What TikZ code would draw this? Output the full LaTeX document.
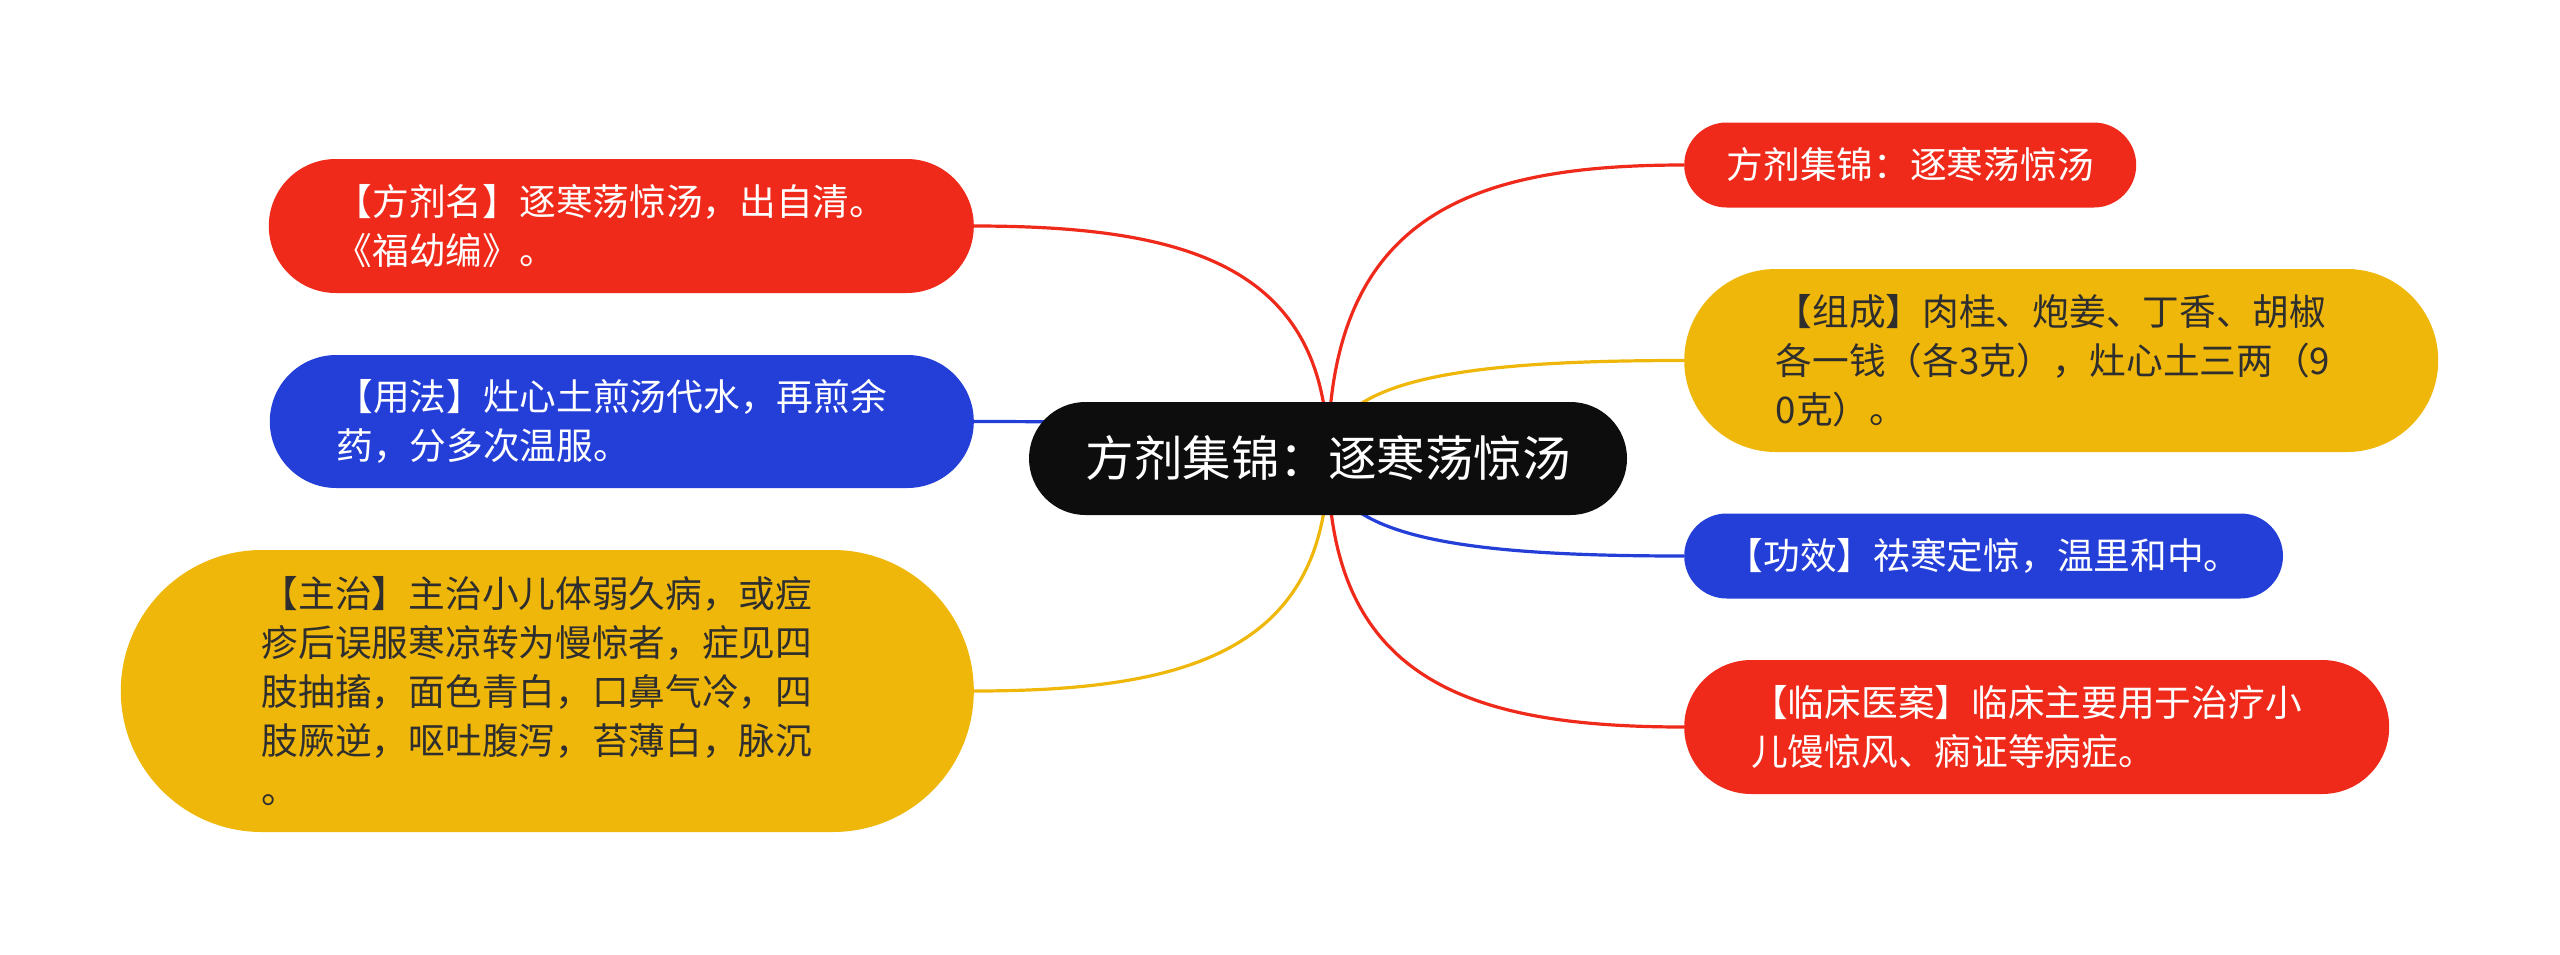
\documentclass[tikz,border=0pt]{standalone}
\usepackage{fontspec}
\setmainfont{Noto Sans CJK SC}
\usetikzlibrary{calc}
\definecolor{mmred}{HTML}{EF2A1A}
\definecolor{mmyel}{HTML}{F0B70B}
\definecolor{mmblue}{HTML}{243ED8}
\definecolor{mmblack}{HTML}{0D0D0D}
\definecolor{mmdark}{HTML}{2E2E2E}
\pgfdeclarelayer{bg}
\pgfsetlayers{bg,main}
\newcommand\mmlink[2]{%
  \draw[mmlinkstyle, #1] (root.center)
    .. controls ($(root.center)!0.83!(root.center|-#2)$)
    and ($(root.center|-#2)!0.4!(#2)$) .. (#2);}
\begin{document}
\begin{tikzpicture}[x=1pt,y=-1pt,
  mmbox/.style={rectangle, inner ysep=0pt, align=left,
    font=\fontsize{36.7pt}{49pt}\selectfont},
  mmwrap/.style={mmbox, text width=571pt},
  hgt/.style 2 args={minimum height=#1, inner xsep=#2, rounded corners=#2},
  redbox/.style={fill=mmred, text=white},
  yelbox/.style={fill=mmyel, text=mmdark},
  bluebox/.style={fill=mmblue, text=white},
  mmlinkstyle/.style={line width=3.2pt}]
\useasboundingbox (0,0) rectangle (2560,954);
% root
\node[rectangle, fill=mmblack, text=white, minimum height=113pt, inner xsep=56.5pt,
  rounded corners=56.5pt, inner ysep=0pt,
  font=\fontsize{48.5pt}{56pt}\selectfont] (root) at (1328,458.5) {方剂集锦：逐寒荡惊汤};
% left
\node[mmwrap, redbox, hgt={134pt}{67pt}, anchor=east] (n1) at (974,226)
  {【方剂名】逐寒荡惊汤，出自清。\\《福幼编》。};
\node[mmwrap, bluebox, hgt={133pt}{66.5pt}, anchor=east] (n2) at (974,421.5)
  {【用法】灶心土煎汤代水，再煎余\\药，分多次温服。};
\node[mmwrap, yelbox, hgt={282pt}{141pt}, anchor=east] (n3) at (974,691)
  {【主治】主治小儿体弱久病，或痘\\疹后误服寒凉转为慢惊者，症见四\\肢抽搐，面色青白，口鼻气冷，四\\肢厥逆，呕吐腹泻，苔薄白，脉沉\\。};
% right
\node[mmbox, redbox, hgt={85pt}{42.5pt}, anchor=west] (r1) at (1684,165)
  {方剂集锦：逐寒荡惊汤};
\node[mmwrap, yelbox, hgt={183pt}{91.5pt}, anchor=west] (r2) at (1684,360.5)
  {【组成】肉桂、炮姜、丁香、胡椒\\各一钱（各3克），灶心土三两（9\\0克）。};
\node[mmbox, bluebox, hgt={85pt}{42.5pt}, anchor=west] (r3) at (1684,556)
  {【功效】祛寒定惊，温里和中。};
\node[mmwrap, redbox, hgt={134pt}{67pt}, anchor=west] (r4) at (1684,727)
  {【临床医案】临床主要用于治疗小\\儿馒惊风、痫证等病症。};
\begin{pgfonlayer}{bg}
\mmlink{mmred}{n1.east}
\mmlink{mmblue}{n2.east}
\mmlink{mmyel}{n3.east}
\mmlink{mmred}{r1.west}
\mmlink{mmyel}{r2.west}
\mmlink{mmblue}{r3.west}
\mmlink{mmred}{r4.west}
\end{pgfonlayer}
\end{tikzpicture}
\end{document}
